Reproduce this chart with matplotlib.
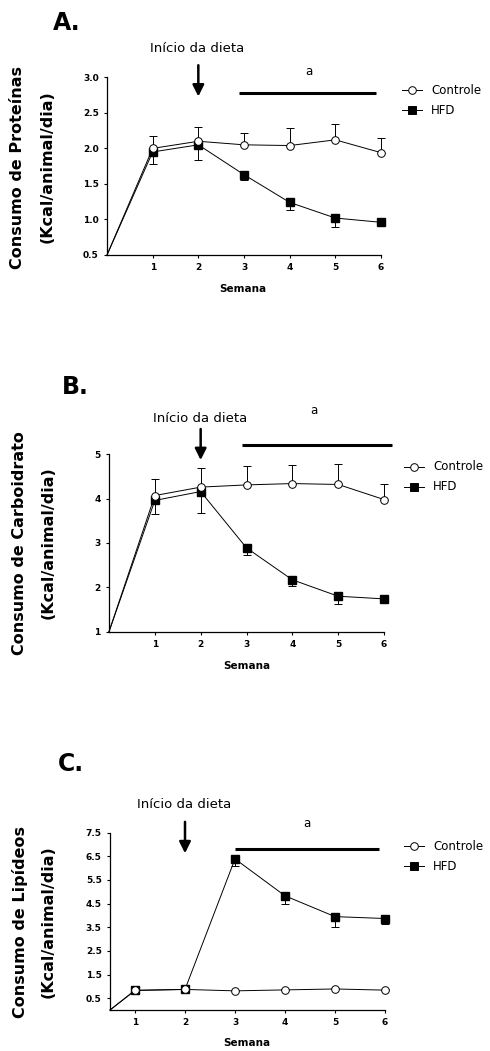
import numpy as np
import matplotlib.pyplot as plt
from matplotlib.lines import Line2D

plt.rcParams['font.family'] = 'DejaVu Sans'

semanas = [1, 2, 3, 4, 5, 6]

# A - proteinas
prot_controle = [2.00, 2.10, 2.05, 2.04, 2.12, 1.94]
prot_controle_ep = [0.17, 0.20, 0.17, 0.25, 0.22, 0.21]
prot_hfd = [1.95, 2.05, 1.63, 1.24, 1.02, 0.96]
prot_hfd_ep = [0.17, 0.21, 0.08, 0.11, 0.13, 0.03]

# B - carboidrato
carb_controle = [4.07, 4.26, 4.31, 4.34, 4.32, 3.98]
carb_controle_ep = [0.37, 0.42, 0.43, 0.43, 0.47, 0.36]
carb_hfd = [3.96, 4.16, 2.89, 2.17, 1.80, 1.74]
carb_hfd_ep = [0.31, 0.48, 0.17, 0.15, 0.18, 0.03]

# C - lipideos
lip_controle = [0.83, 0.87, 0.81, 0.85, 0.89, 0.84]
lip_controle_ep = [0.03, 0.03, 0.03, 0.03, 0.03, 0.03]
lip_hfd = [0.83, 0.87, 6.39, 4.83, 3.95, 3.87]
lip_hfd_ep = [0.03, 0.03, 0.29, 0.35, 0.44, 0.25]

# ponto inicial (semana 0) de cada curva
inicio_semana = [0, 0, 0.5]
inicio_valor = [0.5, 1.0, 0.0]

letras = ['A.', 'B.', 'C.']
ylabels = ['Consumo de Proteínas', 'Consumo de Carboidrato', 'Consumo de Lipídeos']
yticks = [np.arange(0.5, 3.01, 0.5), np.arange(1, 5.01, 1), np.arange(0.5, 7.51, 1)]
ytickfmt = ['{:.1f}', '{:.0f}', '{:.1f}']
xlims = [(0, 6), (0, 6), (0.5, 6)]
ylims = [(0.5, 3.0), (1, 5), (0, 7.5)]

# barra de significancia "a": x inicial, x final, y
barra_x0 = [2.9, 2.9, 3.0]
barra_x1 = [5.89, 6.18, 5.87]
barra_y = [2.78, 5.21, 6.81]
letra_a_pos = [(4.42, 3.08), (4.46, 5.99), (4.43, 7.87)]
seta_y = [(3.17, 2.73), (5.57, 4.87), (7.96, 6.63)]

dados = [
    (prot_controle, prot_controle_ep, prot_hfd, prot_hfd_ep),
    (carb_controle, carb_controle_ep, carb_hfd, carb_hfd_ep),
    (lip_controle, lip_controle_ep, lip_hfd, lip_hfd_ep),
]

W, H = 490, 1051
fig = plt.figure(figsize=(W / 100, H / 100), dpi=100)


def px(x, y):
    return x / W, 1 - y / H


def sem_corte(container):
    # deixa as barras de erro na borda do eixo inteiras
    for parte in container.lines:
        if parte is None:
            continue
        if isinstance(parte, tuple):
            for a in parte:
                a.set_clip_on(False)
        else:
            parte.set_clip_on(False)


# caixas dos eixos em pixels: esquerda, topo, direita, base
caixas = [(107, 77.3, 381, 255), (109, 454.3, 384, 631.7), (110, 832.7, 385, 1010)]
inicio_txt = [(197, 49), (200, 419), (184, 804)]
letra_pos = [(53, 23), (62, 387), (58, 764)]
ylab_pos = [(18, 47, 167), (20, 48, 543), (20, 48, 922)]
semana_pos = [(243, 289), (247, 666), (247, 1043)]
legenda_pos = [(412, 90), (414, 467), (414, 846)]

lw = 0.7
ms = 5.5

for i in range(3):
    l, t, r, b = caixas[i]
    ax = fig.add_axes([l / W, 1 - b / H, (r - l) / W, (b - t) / H])
    ctrl, ctrl_ep, hfd, hfd_ep = dados[i]
    zeros = [0] * len(semanas)

    xs = [inicio_semana[i]] + semanas
    # HFD
    ax.plot(xs, [inicio_valor[i]] + hfd, color='k', lw=lw, zorder=2, clip_on=False)
    eb = ax.errorbar(semanas, hfd, yerr=[hfd_ep, zeros], fmt='none', ecolor='k',
                     elinewidth=lw, capsize=2.6, capthick=lw, zorder=2)
    sem_corte(eb)
    ax.plot(semanas, hfd, 's', color='k', ms=ms, zorder=3, clip_on=False)
    # Controle
    ax.plot(xs, [inicio_valor[i]] + ctrl, color='k', lw=lw, zorder=4, clip_on=False)
    eb = ax.errorbar(semanas, ctrl, yerr=[zeros, ctrl_ep], fmt='none', ecolor='k',
                     elinewidth=lw, capsize=2.6, capthick=lw, zorder=4)
    sem_corte(eb)
    ax.plot(semanas, ctrl, 'o', mfc='white', mec='k', mew=lw, ms=ms, zorder=5, clip_on=False)

    ax.set_xlim(*xlims[i])
    ax.set_ylim(*ylims[i])
    ax.set_xticks(semanas)
    ax.set_xticklabels([str(s) for s in semanas], fontweight='bold', fontsize=6.5)
    ax.set_yticks(yticks[i])
    ax.set_yticklabels([ytickfmt[i].format(v) for v in yticks[i]], fontweight='bold', fontsize=6.5)
    ax.tick_params(direction='out', length=2.5, width=0.8, pad=3.5)
    for s in ['top', 'right']:
        ax.spines[s].set_visible(False)
    for s in ['left', 'bottom']:
        ax.spines[s].set_linewidth(0.9)

    # barra de significancia
    ax.plot([barra_x0[i], barra_x1[i]], [barra_y[i], barra_y[i]], color='k', lw=2.2,
            solid_capstyle='butt', clip_on=False)
    ax.text(letra_a_pos[i][0], letra_a_pos[i][1], 'a', ha='center', va='center', fontsize=8.5)
    # seta do inicio da dieta
    ax.annotate('', xy=(2, seta_y[i][1]), xytext=(2, seta_y[i][0]),
                arrowprops=dict(arrowstyle='-|>', lw=1.8, mutation_scale=17, color='k',
                                shrinkA=0, shrinkB=0),
                annotation_clip=False)

    fig.text(*px(*inicio_txt[i]), 'Início da dieta', ha='center', va='center', fontsize=9.5)
    fig.text(*px(*letra_pos[i]), letras[i], ha='left', va='center', fontsize=17, fontweight='bold')
    x1, x2, yc = ylab_pos[i]
    fig.text(*px(x1, yc), ylabels[i], rotation=90, ha='center', va='center',
             fontsize=11.5, fontweight='bold')
    fig.text(*px(x2, yc), '(Kcal/animal/dia)', rotation=90, ha='center', va='center',
             fontsize=11.5, fontweight='bold')
    fig.text(*px(*semana_pos[i]), 'Semana', ha='center', va='center', fontsize=7.5, fontweight='bold')

    # legenda
    lx, ly = legenda_pos[i]
    for j, (nome, mk, cor) in enumerate([('Controle', 'o', 'white'), ('HFD', 's', 'k')]):
        yy = ly + j * 20
        fig.add_artist(Line2D([(lx - 10) / W, lx / W, (lx + 10) / W],
                              [1 - yy / H] * 3, transform=fig.transFigure,
                              color='k', lw=lw, marker=mk, mfc=cor, mec='k',
                              mew=lw, ms=ms, markevery=[1]))
        fig.text((lx + 19) / W, 1 - yy / H, nome, ha='left', va='center', fontsize=8.5)

fig.savefig('out.png', dpi=100)
